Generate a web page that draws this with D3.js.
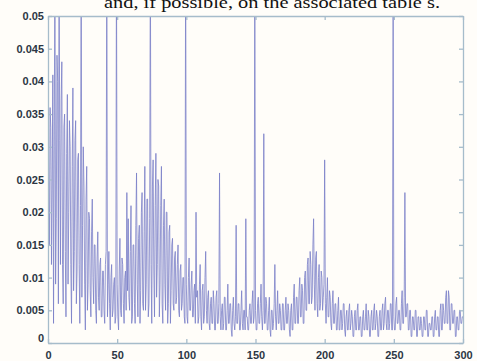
<!DOCTYPE html>
<html><head><meta charset="utf-8">
<script src="https://cdn.jsdelivr.net/npm/d3@7"></script>
<style>html,body{margin:0;padding:0;background:#fffdf9;}svg{display:block;}</style>
</head><body>
<script>
const xTicks = [0, 50, 100, 150, 200, 250, 300];
const yTicks = [0, 0.005, 0.01, 0.015, 0.02, 0.025, 0.03, 0.035, 0.04, 0.045, 0.05];
const yTickLabels = ["0","0.005","0.01","0.015","0.02","0.025","0.03","0.035","0.04","0.045","0.05"];
const captionText = "and, if possible, on the associated table s.";
const sampleStep = 0.5;        // x spacing of samples
const unit = 0.001;            // values below are given in thousandths
// amplitude per sample (in thousandths), x = 0, 0.5, 1, ... 300
const valuesMilli = [
46,22,15,36,33,12,24,41,3,30,60,9,19,44,40,6,60,31,12,37,
43,12,6,33,35,14,4,29,38,9,20,34,30,12,3,27,39,8,14,31,
34,6,11,28,29,12,3,21,60,7,18,30,24,9,2,22,27,5,9,20,
19,8,4,17,22,10,6,15,15,5,3,13,17,7,5,12,13,4,4,11,
11,5,3,12,14,60,4,9,14,6,2,10,12,4,5,9,10,3,4,60,
9,4,2,11,16,5,4,13,12,6,3,10,11,5,23,8,19,7,5,14,
21,3,4,15,15,6,3,18,26,9,4,16,18,3,8,20,23,6,5,17,
27,5,9,22,22,4,6,19,60,12,3,24,28,11,4,21,29,7,12,25,
24,4,9,21,27,6,3,18,22,9,5,20,20,3,6,17,18,3,8,15,
16,6,5,13,14,6,7,12,15,5,4,11,12,5,6,10,10,4,3,60,
9,4,3,10,13,5,5,9,11,4,4,8,9,3,20,7,8,3,4,9,
12,4,2,8,9,3,4,10,14,5,3,7,8,3,2,6,7,3,3,8,
6,2,2,7,8,3,3,6,26,4,2,5,6,2,3,7,7,2,2,5,
9,3,3,6,6,2,1,5,7,3,2,4,18,3,3,6,6,2,2,5,
8,3,2,5,5,2,19,4,4,2,2,5,6,3,3,6,8,3,4,60,
5,2,2,6,7,3,3,6,9,4,2,5,32,3,3,7,6,2,2,5,
7,2,1,5,5,2,3,6,12,4,2,5,8,3,3,6,5,2,2,6,
6,2,2,5,7,3,3,6,5,2,1,5,6,2,2,7,9,3,3,7,
7,3,3,8,10,4,4,9,8,3,3,10,11,5,5,12,13,6,6,14,
12,6,7,15,19,9,5,13,14,6,4,10,12,5,6,11,10,5,7,9,
28,6,3,7,10,4,4,8,7,3,2,6,8,3,3,6,6,2,2,5,
7,2,2,5,5,2,3,6,6,2,1,4,5,2,2,5,6,2,3,5,
4,1,1,4,5,2,2,5,6,2,2,4,4,1,1,4,5,2,2,4,
6,2,2,5,4,1,1,4,5,2,2,5,6,2,3,5,4,1,1,4,
5,2,2,5,6,2,3,6,7,3,2,5,5,2,3,6,6,2,2,60,
4,2,2,6,7,3,3,5,5,2,2,6,8,3,3,7,23,4,4,6,
6,2,2,5,5,1,1,4,4,2,2,5,5,1,1,4,4,2,2,4,
3,1,1,4,4,2,2,5,5,1,1,3,3,2,2,4,4,1,1,4,
5,2,2,4,4,1,1,5,6,2,2,6,5,3,3,7,8,3,3,8,
7,2,2,6,6,3,3,5,5,1,1,4,4,2,2,5,5,3,3,4,
4
];

const W = 477, H = 361;
const m = {left: 48, right: 14, top: 16, bottom: 18};
const svg = d3.select("body").append("svg").attr("width", W).attr("height", H);
svg.append("rect").attr("width", W).attr("height", H).attr("fill", "#fffdf9");

// caption line of the source page, clipped by the top edge as in the reference
svg.append("text").attr("x", 104).attr("y", 8)
  .attr("font-family", "Liberation Serif, serif").attr("font-size", 17)
  .attr("textLength", 336).attr("lengthAdjust", "spacingAndGlyphs")
  .attr("fill", "#111").text(captionText);

const x = d3.scaleLinear().domain([0, 300]).range([m.left, W - m.right]);
const y = d3.scaleLinear().domain([0, 0.05]).range([H - m.bottom, m.top]);

svg.append("defs").append("clipPath").attr("id", "pc")
  .append("rect").attr("x", m.left).attr("y", m.top)
  .attr("width", x(300) - m.left).attr("height", y(0) - m.top);

const line = d3.line().x((d, i) => x(i * sampleStep)).y(d => y(d * unit));
svg.append("path").datum(valuesMilli)
  .attr("clip-path", "url(#pc)")
  .attr("fill", "none").attr("stroke", "#7a7fc8").attr("stroke-width", 0.8)
  .attr("d", line);

const axisColor = "#a6bccb";
const txtColor = "#2c3644";
const font = "Liberation Sans, Arial, sans-serif";

const gB = svg.append("g").attr("transform", `translate(0,${y(0)})`)
  .call(d3.axisBottom(x).tickValues(xTicks).tickSizeInner(-4).tickSizeOuter(0).tickPadding(8));
const gT = svg.append("g").attr("transform", `translate(0,${y(0.05)})`)
  .call(d3.axisTop(x).tickValues(xTicks).tickSizeInner(-4).tickSizeOuter(0).tickFormat(""));
const gL = svg.append("g").attr("transform", `translate(${x(0)},0)`)
  .call(d3.axisLeft(y).tickValues(yTicks).tickSizeInner(-4).tickSizeOuter(0).tickPadding(4)
    .tickFormat((d, i) => yTickLabels[i]));
const gR = svg.append("g").attr("transform", `translate(${x(300)},0)`)
  .call(d3.axisRight(y).tickValues(yTicks).tickSizeInner(-4).tickSizeOuter(0).tickFormat(""));

[gB, gT, gL, gR].forEach(g => {
  g.selectAll(".domain").attr("stroke", axisColor).attr("stroke-width", 1.3);
  g.selectAll(".tick line").attr("stroke", axisColor).attr("stroke-width", 1.3);
  g.selectAll("text").attr("fill", txtColor).attr("font-family", font)
    .attr("font-size", 11).attr("font-weight", "bold");
});
gL.selectAll(".tick").filter(d => d === 0).select("text").attr("dy", "-0.1em");
</script>
</body></html>
